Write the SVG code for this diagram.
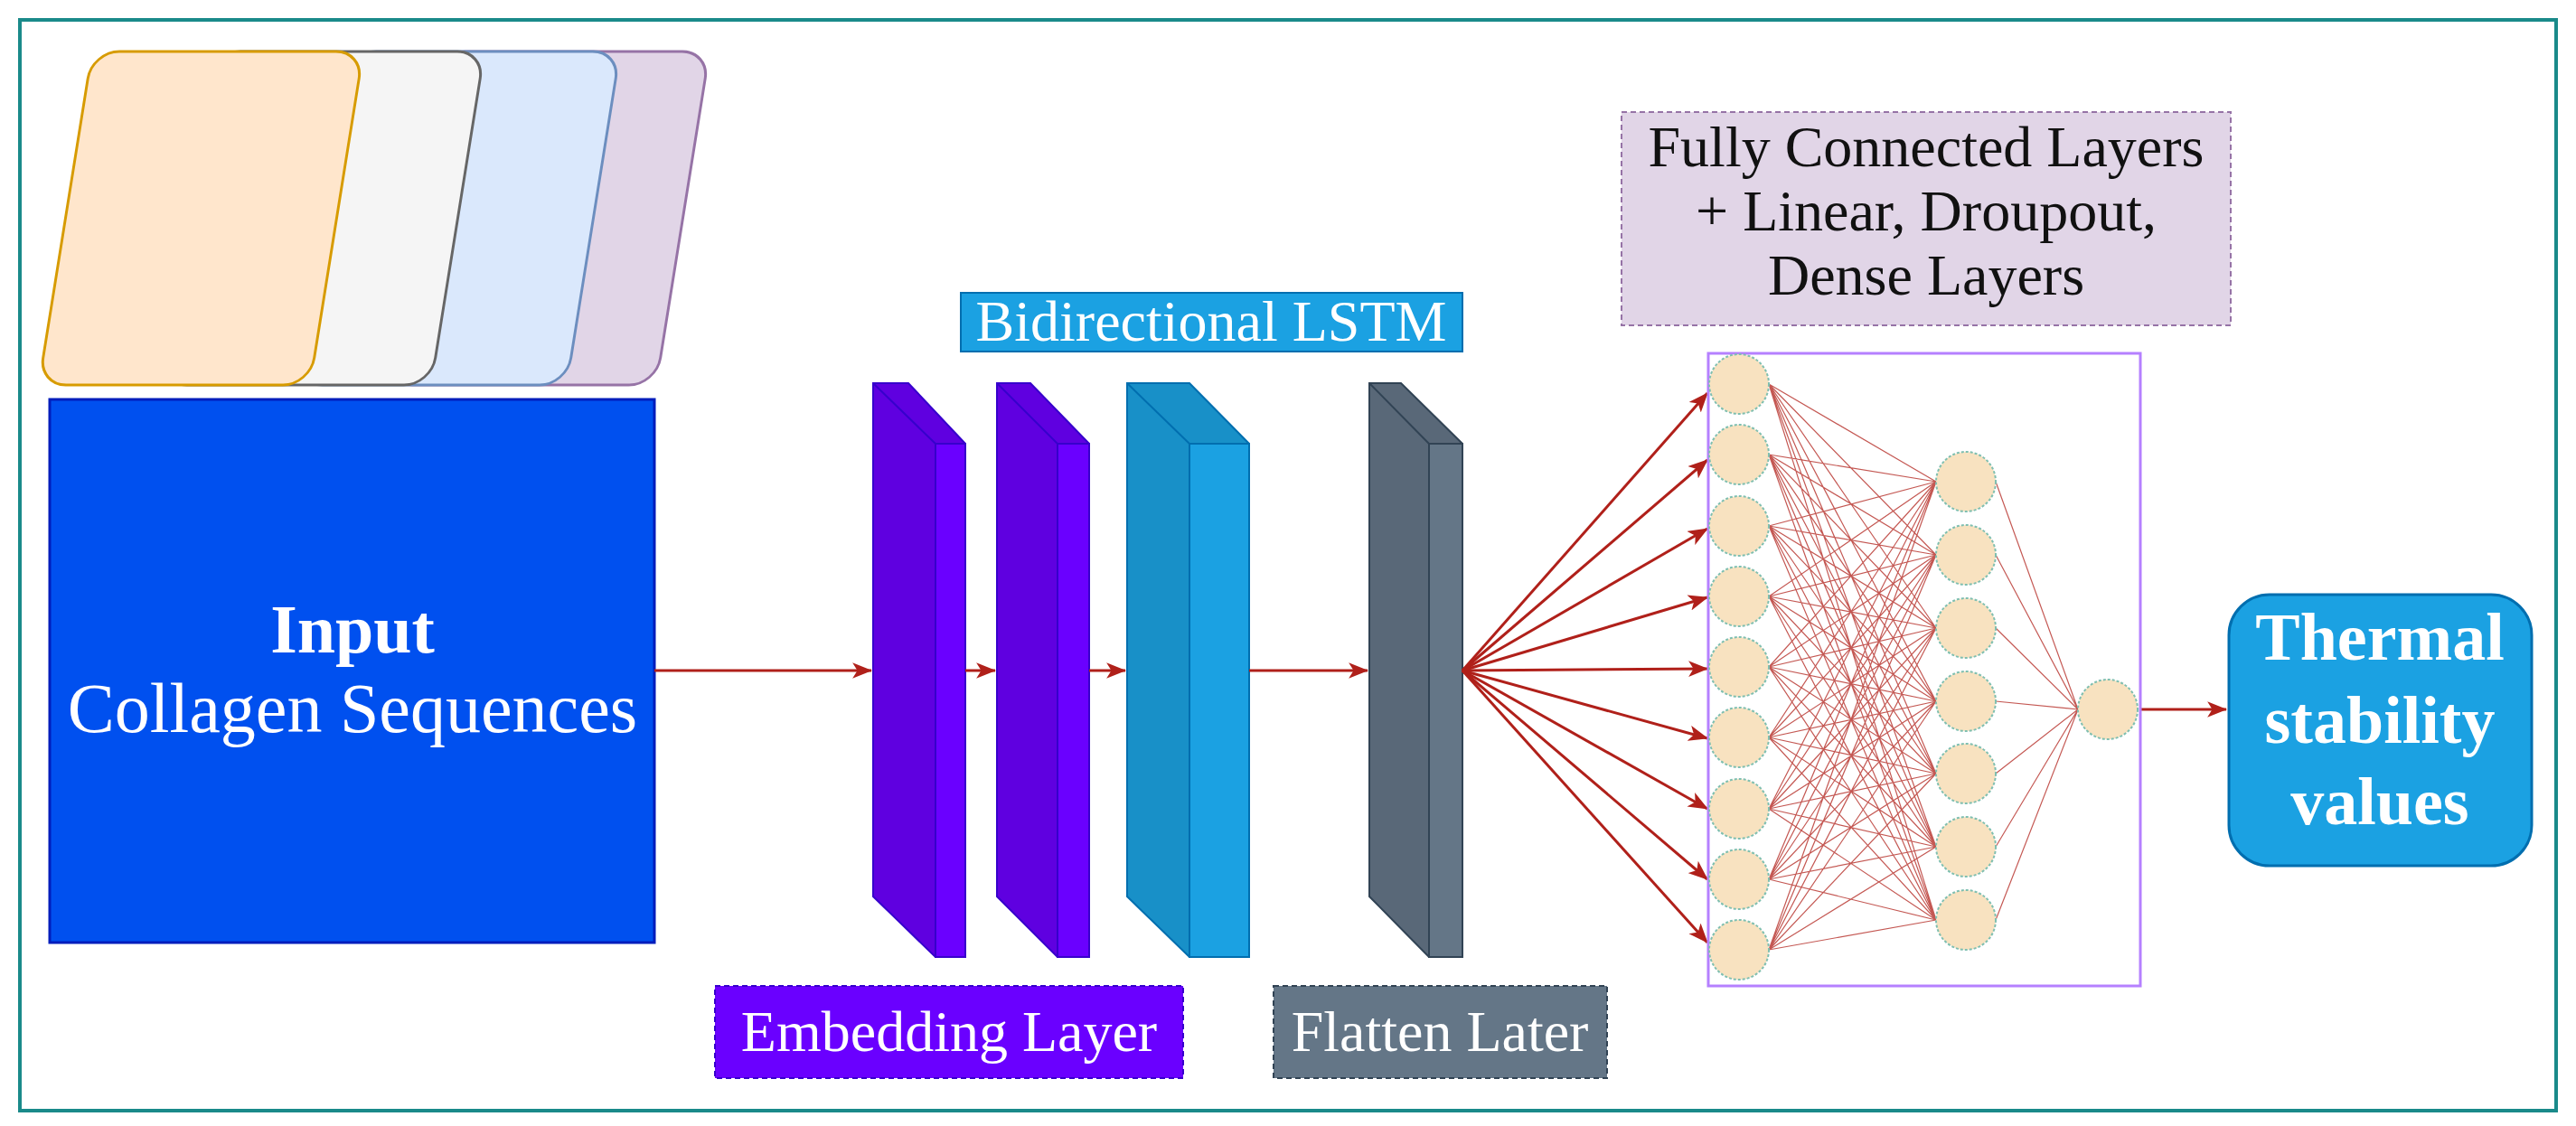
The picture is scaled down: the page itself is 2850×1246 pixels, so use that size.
<svg xmlns="http://www.w3.org/2000/svg" width="2850" height="1246" viewBox="0 0 2850 1246">
<defs>
<marker id="ah" viewBox="0 0 20 16" refX="19" refY="8" markerWidth="22" markerHeight="18" markerUnits="userSpaceOnUse" orient="auto">
<path d="M0,0 L20,8 L0,16 L5,8 Z" fill="#b0201a"/>
</marker>
<style>
.serif{font-family:"Liberation Serif","Times New Roman",serif}
.wt{fill:#ffffff}
.conn{stroke:#b0201a;stroke-width:3;fill:none;marker-end:url(#ah)}
.mesh{stroke:#b0201a;stroke-width:1.2;fill:none;opacity:0.75}
.neuron{fill:#f8e2c0;stroke:#7fbfb0;stroke-width:2;stroke-dasharray:3 2}
</style>
</defs>
<rect width="2850" height="1246" fill="#ffffff"/>
<rect x="22" y="22" width="2806" height="1207" fill="none" stroke="#1a8a8a" stroke-width="4"/>

<g id="sequences">
<rect x="0" y="0" width="300" height="369" rx="30" fill="#e1d5e7" stroke="#9673a6" stroke-width="3" transform="translate(485,57) skewX(-9.1)"/>
<rect x="0" y="0" width="300" height="369" rx="30" fill="#dae8fc" stroke="#6c8ebf" stroke-width="3" transform="translate(386,57) skewX(-9.1)"/>
<rect x="0" y="0" width="300" height="369" rx="30" fill="#f5f5f5" stroke="#666666" stroke-width="3" transform="translate(236,57) skewX(-9.1)"/>
<rect x="0" y="0" width="300" height="369" rx="30" fill="#ffe6cc" stroke="#d79b00" stroke-width="3" transform="translate(102,57) skewX(-9.1)"/>
</g>

<g id="input">
<rect x="55" y="442" width="669" height="601" fill="#0050ef" stroke="#001dbc" stroke-width="3"/>
<text x="390" y="722" text-anchor="middle" class="serif wt" font-size="76" font-weight="bold">Input</text>
<text x="390" y="810" text-anchor="middle" class="serif wt" font-size="78">Collagen Sequences</text>
</g>

<g id="embedding1">
<polygon points="966,424 1005,424 1068,491 1068,1059 1035,1059 966,992" fill="#5f00e0" stroke="#3700cc" stroke-width="2"/>
<polygon points="1035,491 1068,491 1068,1059 1035,1059" fill="#6a00ff" stroke="#3700cc" stroke-width="2"/>
<line x1="966" y1="424" x2="1035" y2="491" stroke="#3700cc" stroke-width="2"/>
</g>
<g id="embedding2">
<polygon points="1103,424 1140,424 1205,491 1205,1059 1170,1059 1103,992" fill="#5f00e0" stroke="#3700cc" stroke-width="2"/>
<polygon points="1170,491 1205,491 1205,1059 1170,1059" fill="#6a00ff" stroke="#3700cc" stroke-width="2"/>
<line x1="1103" y1="424" x2="1170" y2="491" stroke="#3700cc" stroke-width="2"/>
</g>
<g id="lstm">
<polygon points="1247,424 1316,424 1382,491 1382,1059 1316,1059 1247,992" fill="#1890c8" stroke="#006eaf" stroke-width="2"/>
<polygon points="1316,491 1382,491 1382,1059 1316,1059" fill="#1ba1e2" stroke="#006eaf" stroke-width="2"/>
<line x1="1247" y1="424" x2="1316" y2="491" stroke="#006eaf" stroke-width="2"/>
</g>
<g id="flatten">
<polygon points="1515,424 1550,424 1618,491 1618,1059 1581,1059 1515,992" fill="#596878" stroke="#314354" stroke-width="2"/>
<polygon points="1581,491 1618,491 1618,1059 1581,1059" fill="#647687" stroke="#314354" stroke-width="2"/>
<line x1="1515" y1="424" x2="1581" y2="491" stroke="#314354" stroke-width="2"/>
</g>

<g id="label-lstm">
<rect x="1063" y="324" width="555" height="65" fill="#1ba1e2" stroke="#006eaf" stroke-width="2"/>
<text x="1340" y="377" text-anchor="middle" class="serif wt" font-size="64">Bidirectional LSTM</text>
</g>
<g id="label-embedding">
<rect x="791" y="1091" width="518" height="102" fill="#6a00ff" stroke="#3700cc" stroke-width="2" stroke-dasharray="6 4"/>
<text x="1050" y="1163" text-anchor="middle" class="serif wt" font-size="64">Embedding Layer</text>
</g>
<g id="label-flatten">
<rect x="1409" y="1091" width="369" height="102" fill="#647687" stroke="#314354" stroke-width="2" stroke-dasharray="6 4"/>
<text x="1593" y="1163" text-anchor="middle" class="serif wt" font-size="64">Flatten Later</text>
</g>
<g id="label-fc">
<rect x="1794" y="124" width="674" height="236" fill="#e1d5e7" stroke="#9673a6" stroke-width="2" stroke-dasharray="6 4"/>
<text text-anchor="middle" class="serif" font-size="64" fill="#111111"><tspan x="2131" y="184">Fully Connected Layers</tspan><tspan x="2131" y="255">+ Linear, Droupout,</tspan><tspan x="2131" y="326">Dense Layers</tspan></text>
</g>

<g id="connectors">
<line class="conn" x1="724" y1="742" x2="964" y2="742"/>
<line class="conn" x1="1068" y1="742" x2="1101" y2="742"/>
<line class="conn" x1="1205" y1="742" x2="1245" y2="742"/>
<line class="conn" x1="1382" y1="742" x2="1513" y2="742"/>
<line class="conn" x1="1618" y1="742" x2="1889" y2="435"/>
<line class="conn" x1="1618" y1="742" x2="1889" y2="509"/>
<line class="conn" x1="1618" y1="742" x2="1889" y2="585"/>
<line class="conn" x1="1618" y1="742" x2="1889" y2="661"/>
<line class="conn" x1="1618" y1="742" x2="1889" y2="740"/>
<line class="conn" x1="1618" y1="742" x2="1889" y2="817"/>
<line class="conn" x1="1618" y1="742" x2="1889" y2="895"/>
<line class="conn" x1="1618" y1="742" x2="1889" y2="973"/>
<line class="conn" x1="1618" y1="742" x2="1889" y2="1043"/>
<line class="conn" x1="2366" y1="785" x2="2463" y2="785"/>
</g>

<g id="network">
<rect x="1890" y="391" width="478" height="700" fill="#ffffff" stroke="#b580ff" stroke-width="3"/>
<path class="mesh" d="M1957,425 L2142,533 M1957,425 L2142,614 M1957,425 L2142,695 M1957,425 L2142,776 M1957,425 L2142,856 M1957,425 L2142,937 M1957,425 L2142,1018
M1957,503 L2142,533 M1957,503 L2142,614 M1957,503 L2142,695 M1957,503 L2142,776 M1957,503 L2142,856 M1957,503 L2142,937 M1957,503 L2142,1018
M1957,582 L2142,533 M1957,582 L2142,614 M1957,582 L2142,695 M1957,582 L2142,776 M1957,582 L2142,856 M1957,582 L2142,937 M1957,582 L2142,1018
M1957,660 L2142,533 M1957,660 L2142,614 M1957,660 L2142,695 M1957,660 L2142,776 M1957,660 L2142,856 M1957,660 L2142,937 M1957,660 L2142,1018
M1957,738 L2142,533 M1957,738 L2142,614 M1957,738 L2142,695 M1957,738 L2142,776 M1957,738 L2142,856 M1957,738 L2142,937 M1957,738 L2142,1018
M1957,816 L2142,533 M1957,816 L2142,614 M1957,816 L2142,695 M1957,816 L2142,776 M1957,816 L2142,856 M1957,816 L2142,937 M1957,816 L2142,1018
M1957,895 L2142,533 M1957,895 L2142,614 M1957,895 L2142,695 M1957,895 L2142,776 M1957,895 L2142,856 M1957,895 L2142,937 M1957,895 L2142,1018
M1957,973 L2142,533 M1957,973 L2142,614 M1957,973 L2142,695 M1957,973 L2142,776 M1957,973 L2142,856 M1957,973 L2142,937 M1957,973 L2142,1018
M1957,1051 L2142,533 M1957,1051 L2142,614 M1957,1051 L2142,695 M1957,1051 L2142,776 M1957,1051 L2142,856 M1957,1051 L2142,937 M1957,1051 L2142,1018
M2208,533 L2299,785 M2208,614 L2299,785 M2208,695 L2299,785 M2208,776 L2299,785 M2208,856 L2299,785 M2208,937 L2299,785 M2208,1018 L2299,785"/>
<g>
<ellipse class="neuron" cx="1924" cy="425" rx="33" ry="33"/>
<ellipse class="neuron" cx="1924" cy="503" rx="33" ry="33"/>
<ellipse class="neuron" cx="1924" cy="582" rx="33" ry="33"/>
<ellipse class="neuron" cx="1924" cy="660" rx="33" ry="33"/>
<ellipse class="neuron" cx="1924" cy="738" rx="33" ry="33"/>
<ellipse class="neuron" cx="1924" cy="816" rx="33" ry="33"/>
<ellipse class="neuron" cx="1924" cy="895" rx="33" ry="33"/>
<ellipse class="neuron" cx="1924" cy="973" rx="33" ry="33"/>
<ellipse class="neuron" cx="1924" cy="1051" rx="33" ry="33"/>
<ellipse class="neuron" cx="2175" cy="533" rx="33" ry="33"/>
<ellipse class="neuron" cx="2175" cy="614" rx="33" ry="33"/>
<ellipse class="neuron" cx="2175" cy="695" rx="33" ry="33"/>
<ellipse class="neuron" cx="2175" cy="776" rx="33" ry="33"/>
<ellipse class="neuron" cx="2175" cy="856" rx="33" ry="33"/>
<ellipse class="neuron" cx="2175" cy="937" rx="33" ry="33"/>
<ellipse class="neuron" cx="2175" cy="1018" rx="33" ry="33"/>
<ellipse class="neuron" cx="2332" cy="785" rx="33" ry="33"/>
</g>
</g>

<g id="output">
<rect x="2466" y="658" width="335" height="300" rx="45" fill="#1ba1e2" stroke="#006eaf" stroke-width="3"/>
<text text-anchor="middle" class="serif wt" font-size="74" font-weight="bold"><tspan x="2633" y="730">Thermal</tspan><tspan x="2633" y="822">stability</tspan><tspan x="2633" y="912">values</tspan></text>
</g>
</svg>
